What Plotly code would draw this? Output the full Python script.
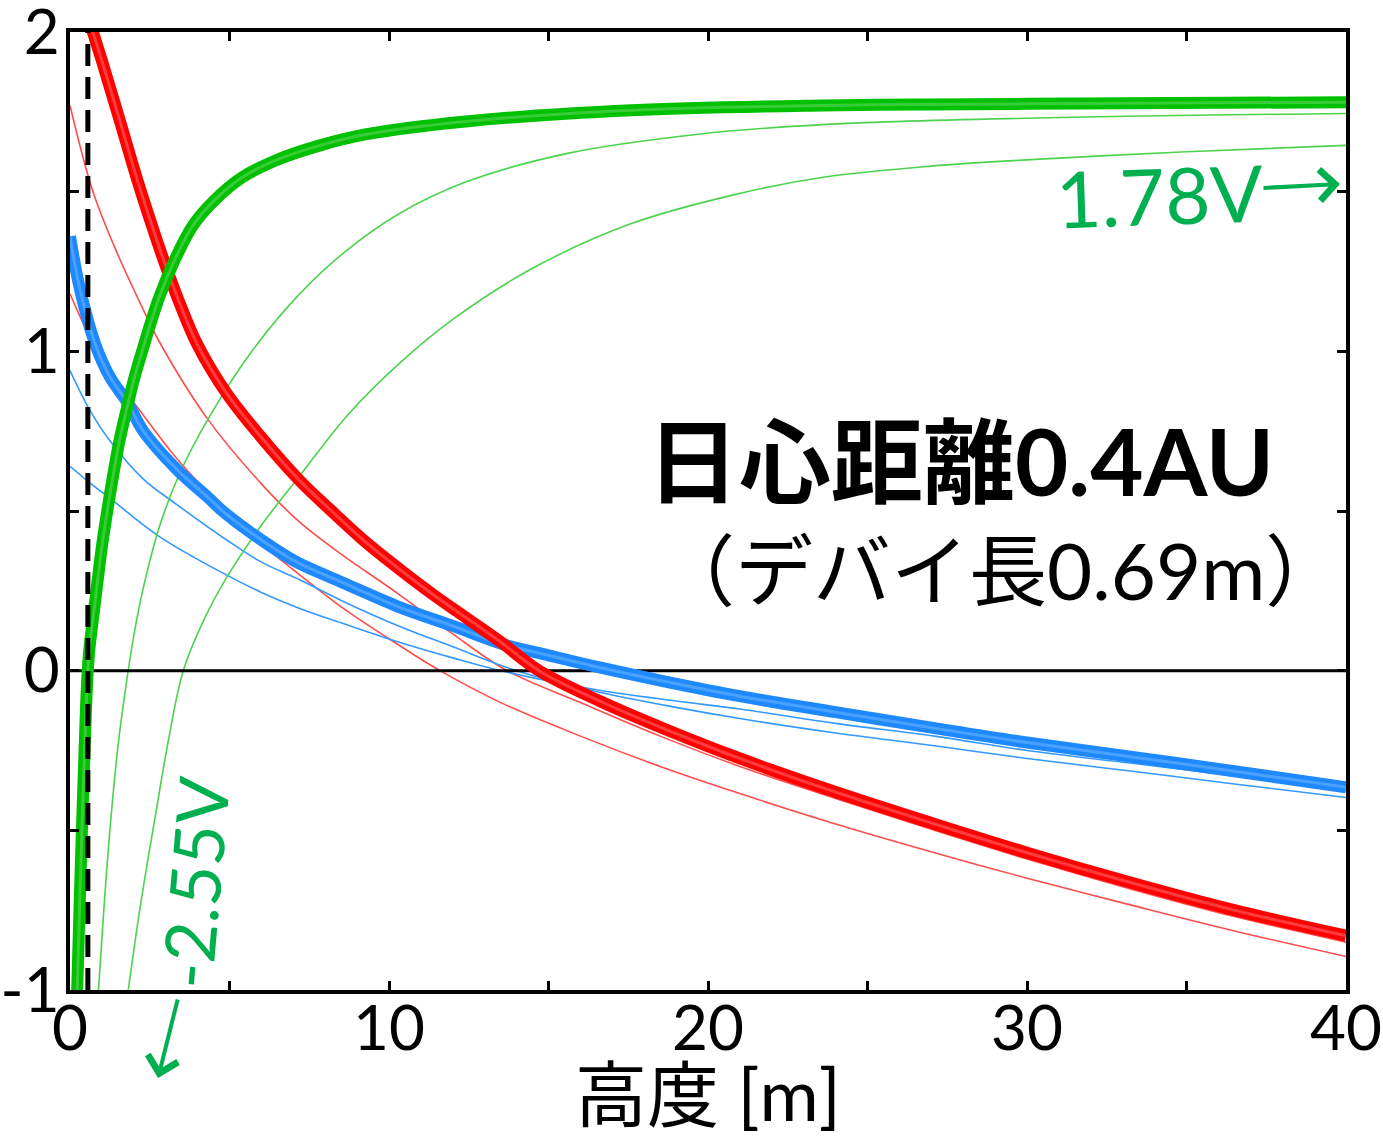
import plotly.graph_objects as go

# ---- data: potential [V] versus height [m] ----
red_thick_x = [0.62, 0.78, 1.0, 1.3, 1.57, 2.1, 2.5, 2.92, 3.5, 4.0, 4.9, 5.96, 7.2, 8.2, 9.3,
               10.3, 11.4, 12.5, 13.5, 14.7, 16.6, 18.7, 21.0, 24.0, 27.1, 30.0, 33.3, 36.5, 40.0]
red_thick_y = [2.03, 1.98, 1.91, 1.81, 1.72, 1.54, 1.415, 1.29, 1.135, 1.02, 0.87, 0.735, 0.595, 0.50, 0.40,
               0.32, 0.237, 0.16, 0.09, 0.0, -0.095, -0.185, -0.275, -0.38, -0.48, -0.57, -0.665, -0.75, -0.83]

red_thin_a_x = [0, 0.72, 1.47, 2.3, 2.8, 4.3, 6.0, 7.2, 8.5, 10.3, 12.0, 13.7, 16.0, 18.5,
                21.0, 24.0, 27.1, 30.0, 33.3, 36.5, 40.0]
red_thin_a_y = [1.77, 1.50, 1.31, 1.13, 1.03, 0.79, 0.585, 0.465, 0.365, 0.24, 0.115, 0.0, -0.10, -0.205,
                -0.30, -0.40, -0.50, -0.59, -0.685, -0.77, -0.85]

red_thin_b_x = [0, 0.4, 0.8, 1.47, 2.3, 3.3, 4.3, 5.5, 7.2, 8.5, 10.0, 11.6, 13.5, 16.0, 18.5,
                21.0, 24.0, 27.1, 30.0, 33.3, 36.5, 40.0]
red_thin_b_y = [1.18, 1.09, 1.01, 0.91, 0.80, 0.67, 0.56, 0.44, 0.30, 0.20, 0.10, 0.0, -0.10, -0.205,
                -0.30, -0.385, -0.48, -0.57, -0.65, -0.735, -0.815, -0.895]

blue_thick_x = [0, 0.3, 0.8, 1.25, 1.8, 2.3, 3.35, 4.3, 4.9, 6.5, 7.2, 8.5, 10.3, 12.0, 13.5, 15.0,
                16.6, 18.7, 21.0, 24.0, 27.1, 30.0, 33.3, 36.5, 40.0]
blue_thick_y = [1.36, 1.20, 1.02, 0.92, 0.84, 0.75, 0.63, 0.545, 0.49, 0.376, 0.335, 0.278, 0.20, 0.14,
                0.085, 0.048, 0.01, -0.035, -0.08, -0.13, -0.18, -0.225, -0.27, -0.315, -0.365]

blue_thin_a_x = [0, 0.6, 1.25, 2.3, 3.35, 4.9, 6.0, 7.2, 8.5, 10.3, 12.0, 14.0, 16.5, 19.0, 21.0,
                 24.0, 27.1, 30.0, 33.3, 36.5, 40.0]
blue_thin_a_y = [0.94, 0.82, 0.72, 0.60, 0.52, 0.41, 0.34, 0.285, 0.22, 0.14, 0.075, 0.0, -0.065, -0.115,
                 -0.15, -0.195, -0.235, -0.275, -0.315, -0.355, -0.397]

blue_thin_b_x = [0, 0.6, 1.25, 2.8, 4.9, 6.0, 7.2, 8.5, 10.3, 12.0, 13.5, 16.5, 19.0, 21.0, 24.0,
                 27.1, 30.0, 33.3, 36.5, 40.0]
blue_thin_b_y = [0.64, 0.59, 0.54, 0.42, 0.30, 0.245, 0.195, 0.15, 0.09, 0.04, 0.0, -0.06, -0.095,
                 -0.12, -0.165, -0.205, -0.25, -0.29, -0.33, -0.376]

green_thick_x = [0.22, 0.30, 0.38, 0.46, 0.53, 0.60, 0.68, 0.78, 0.9, 1.03, 1.2, 1.35, 1.55, 1.78,
                 2.0, 2.26, 2.8, 3.3, 3.86, 4.5, 5.4, 6.5, 7.84, 9.3, 12.4, 17.6, 23.6, 30.0, 40.0]
green_thick_y = [-1.02, -0.74, -0.48, -0.24, -0.05, 0.06, 0.13, 0.21, 0.31, 0.41, 0.52, 0.61, 0.72, 0.82,
                 0.91, 1.0, 1.17, 1.29, 1.395, 1.47, 1.545, 1.60, 1.645, 1.68, 1.72, 1.755, 1.77, 1.775, 1.78]

green_thin_a_x = [0.88, 1.06, 1.25, 1.5, 1.75, 2.0, 2.3, 2.8, 3.45, 4.4, 5.7, 7.2, 8.6, 10.3, 12.4,
                  15.6, 19.7, 23.6, 30.0, 40.0]
green_thin_a_y = [-1.02, -0.75, -0.50, -0.24, -0.05, 0.11, 0.26, 0.45, 0.62, 0.80, 1.00, 1.18, 1.31,
                  1.43, 1.53, 1.62, 1.68, 1.71, 1.73, 1.745]

green_thin_b_x = [1.8, 2.2, 2.7, 3.1, 3.55, 4.2, 4.9, 5.96, 7.2, 8.7, 10.3, 12.0, 14.5, 17.6, 20.8,
                  23.6, 27.0, 31.0, 35.0, 40.0]
green_thin_b_y = [-1.02, -0.74, -0.44, -0.21, 0.0, 0.16, 0.29, 0.45, 0.61, 0.80, 0.96, 1.10, 1.26,
                  1.40, 1.49, 1.545, 1.58, 1.605, 1.625, 1.645]

debye_x = 0.56
x_ticks = [0, 5, 10, 15, 20, 25, 30, 35, 40]
x_tick_text = ["0", "", "10", "", "20", "", "30", "", "40"]
y_ticks = [-1, -0.5, 0, 0.5, 1, 1.5, 2]
y_tick_text = ["-1", "", "0", "", "1", "", "2"]

NUM_FONT = "Lato, 'Noto Sans CJK JP', sans-serif"
LABEL_GREEN = "#00B050"
SMOOTH = 1.0

fig = go.Figure()


def thin(x, y, color):
    fig.add_trace(go.Scatter(x=x, y=y, mode="lines", hoverinfo="skip",
                             line=dict(color=color, width=1.6, shape="spline", smoothing=SMOOTH)))


def thick(x, y, edge, core):
    fig.add_trace(go.Scatter(x=x, y=y, mode="lines", hoverinfo="skip",
                             line=dict(color=edge, width=12, shape="spline", smoothing=SMOOTH)))
    fig.add_trace(go.Scatter(x=x, y=y, mode="lines", hoverinfo="skip",
                             line=dict(color=core, width=3, shape="spline", smoothing=SMOOTH)))


# thin curves
thin(red_thin_a_x, red_thin_a_y, "#FF4D4D")
thin(red_thin_b_x, red_thin_b_y, "#FF4D4D")
thin(blue_thin_a_x, blue_thin_a_y, "#3399FF")
thin(blue_thin_b_x, blue_thin_b_y, "#3399FF")
thin(green_thin_a_x, green_thin_a_y, "#4DD24D")
thin(green_thin_b_x, green_thin_b_y, "#4DD24D")

# zero potential line
fig.add_trace(go.Scatter(x=[0, 40], y=[0, 0], mode="lines", hoverinfo="skip",
                         line=dict(color="black", width=3)))

# thick curves
thick(blue_thick_x, blue_thick_y, "#1E88FF", "#4AA2FF")
thick(red_thick_x, red_thick_y, "#FF0000", "#FF3C3C")
thick(green_thick_x, green_thick_y, "#00C000", "#38CC38")

# Debye length marker
fig.add_trace(go.Scatter(x=[debye_x, debye_x], y=[-1, 2], mode="lines", hoverinfo="skip",
                         line=dict(color="black", width=5, dash="22px,11px")))

axis_common = dict(showline=True, linewidth=4, linecolor="black", mirror="ticks",
                   ticks="inside", ticklen=9, tickwidth=3, tickcolor="black",
                   showgrid=False, zeroline=False, automargin=False,
                   ticklabeloverflow="allow",
                   tickfont=dict(family=NUM_FONT, size=62, color="black"))

fig.update_layout(
    width=1383, height=1138, autosize=False,
    margin=dict(l=70, r=37, t=32, b=148),
    paper_bgcolor="white", plot_bgcolor="white",
    showlegend=False,
    xaxis=dict(range=[0, 40], tickvals=x_ticks, ticktext=x_tick_text,
               ticklabelstandoff=-18, **axis_common),
    yaxis=dict(range=[-1, 2], tickvals=y_ticks, ticktext=y_tick_text,
               ticklabelstandoff=-6, **axis_common),
)


def label(text, x, y, size, color="black", angle=0):
    return dict(text=text, x=x, y=y, xref="paper", yref="paper", xanchor="center", yanchor="middle",
                textangle=angle, showarrow=False, font=dict(family=NUM_FONT, size=size, color=color))


def arrow(x, y, ax, ay):
    return dict(text="", x=x, y=y, xref="paper", yref="paper", showarrow=True,
                ax=ax, ay=ay, arrowhead=4, arrowsize=1.5, arrowwidth=4, arrowcolor=LABEL_GREEN)


annotations = [
    label("<b>日心距離0.4AU</b>", 0.6975, 0.553, 92),
    label("（デバイ長0.69m）", 0.729, 0.438, 78),
    label("高度 [m]", 0.5, -0.108, 72),
    label("1.78V", 0.8535, 0.830, 78, LABEL_GREEN, -2),
    arrow(0.9953, 0.8413, -78, 4),
    label("-2.55V", 0.097, 0.112, 70, LABEL_GREEN, -85),
    arrow(0.0690, -0.0919, 20, -80),
]
fig.update_layout(annotations=annotations)

fig.write_html("out.html")
